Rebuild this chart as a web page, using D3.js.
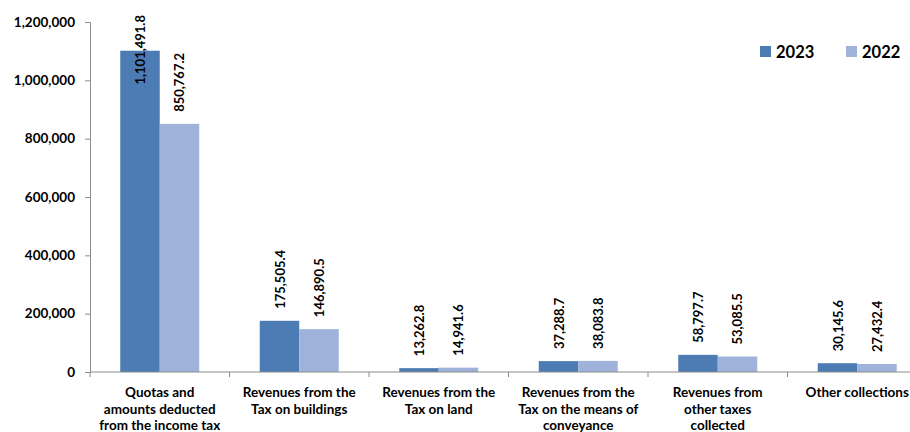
<!DOCTYPE html>
<html>
<head>
<meta charset="utf-8">
<script src="https://cdn.jsdelivr.net/npm/d3@7"></script>
<style>
  html, body { margin: 0; padding: 0; background: #fff; }
  svg { display: block; font-family: Lato, "Open Sans", sans-serif; font-weight: 700; }
</style>
</head>
<body>
<svg id="chart" width="910" height="432"></svg>
<script>
// Revenue categories (x axis)
const categories = [
  ["Quotas and", "amounts deducted", "from the income tax"],
  ["Revenues from the", "Tax on buildings"],
  ["Revenues from the", "Tax on land"],
  ["Revenues from the", "Tax on the means of", "conveyance"],
  ["Revenues from", "other taxes", "collected"],
  ["Other collections"]
];
const seriesNames = ["2023", "2022"];
const values2023 = [1101491.8, 175505.4, 13262.8, 37288.7, 58797.7, 30145.6];
const values2022 = [850767.2, 146890.5, 14941.6, 38083.8, 53085.5, 27432.4];
const yTicks = [0, 200000, 400000, 600000, 800000, 1000000, 1200000];

const colors = { "2023": "#4D7BB4", "2022": "#9FB3DA" };
const svg = d3.select("#chart");

const plotLeft = 90, plotTop = 22, plotBottom = 372;
const bandWidth = 139.5;
const plotRight = plotLeft + bandWidth * categories.length;

const x = d3.scaleBand()
  .domain(d3.range(categories.length))
  .range([plotLeft, plotRight])
  .paddingInner(0).paddingOuter(0);
const xInner = d3.scaleBand()
  .domain(seriesNames)
  .range([0, x.bandwidth()])
  .paddingOuter(0.766).paddingInner(0);
const y = d3.scaleLinear().domain([0, 1200000]).range([plotBottom, plotTop]);

// Y axis
const yAxis = svg.append("g")
  .attr("transform", `translate(${plotLeft},0)`)
  .call(d3.axisLeft(y).tickValues(yTicks).tickSize(5).tickPadding(10)
    .tickFormat(d3.format(",")));
yAxis.select(".domain").attr("stroke", "#8c8c8c");
yAxis.selectAll(".tick line").attr("stroke", "#8c8c8c");
yAxis.selectAll(".tick text").attr("font-size", "13.5px").attr("font-weight", 700)
  .attr("font-family", "Lato, sans-serif").attr("fill", "#000");

// Bars
const rows = categories.map((c, i) => ({ i, vals: [
  { key: "2023", v: values2023[i] }, { key: "2022", v: values2022[i] }
]}));
const groups = svg.append("g").selectAll("g").data(rows).join("g")
  .attr("transform", d => `translate(${x(d.i)},0)`);
groups.selectAll("rect").data(d => d.vals).join("rect")
  .attr("x", d => xInner(d.key))
  .attr("y", d => y(d.v))
  .attr("width", xInner.bandwidth())
  .attr("height", d => plotBottom - y(d.v))
  .attr("fill", d => colors[d.key]);

// X axis
const xAxis = svg.append("g")
  .attr("transform", `translate(0,${plotBottom})`);
xAxis.append("line").attr("x1", plotLeft).attr("x2", plotRight)
  .attr("stroke", "#8c8c8c");
xAxis.selectAll("line.tk").data(d3.range(categories.length + 1)).join("line")
  .attr("class", "tk")
  .attr("x1", i => plotLeft + i * x.step()).attr("x2", i => plotLeft + i * x.step())
  .attr("y1", 0).attr("y2", 5).attr("stroke", "#8c8c8c");

// Category labels
const catLabels = svg.append("g").selectAll("text").data(rows).join("text")
  .attr("text-anchor", "middle")
  .attr("font-size", "13.5px")
  .attr("fill", "#000")
  .attr("x", d => x(d.i) + x.bandwidth() / 2)
  .attr("y", 397);
catLabels.selectAll("tspan").data(d => categories[d.i]).join("tspan")
  .attr("x", function () { return d3.select(this.parentNode).attr("x"); })
  .attr("dy", (d, j) => j === 0 ? 0 : 16.5)
  .text(d => d);

// Value labels, rotated, above each bar
const fmt = d3.format(",.1f");
groups.selectAll("text").data(d => d.vals).join("text")
  .attr("font-size", "13px")
  .attr("fill", "#000")
  .attr("text-anchor", "start")
  .text(d => fmt(d.v))
  .each(function (d) {
    const len = this.getComputedTextLength();
    let base = y(d.v) - 12;
    if (base - len < 15) base = 15 + len;
    const cx = xInner(d.key) + xInner.bandwidth() / 2 + 5;
    d3.select(this).attr("transform", `translate(${cx},${base}) rotate(-90)`);
  });

// Legend
const legend = svg.append("g");
const legendX = [760, 846];
seriesNames.forEach((s, i) => {
  legend.append("rect").attr("x", legendX[i]).attr("y", 46)
    .attr("width", 11).attr("height", 11).attr("fill", colors[s]);
  legend.append("text").attr("x", legendX[i] + 16).attr("y", 57.5)
    .attr("font-size", "16.5px").attr("fill", "#000").text(s);
});
</script>
</body>
</html>
